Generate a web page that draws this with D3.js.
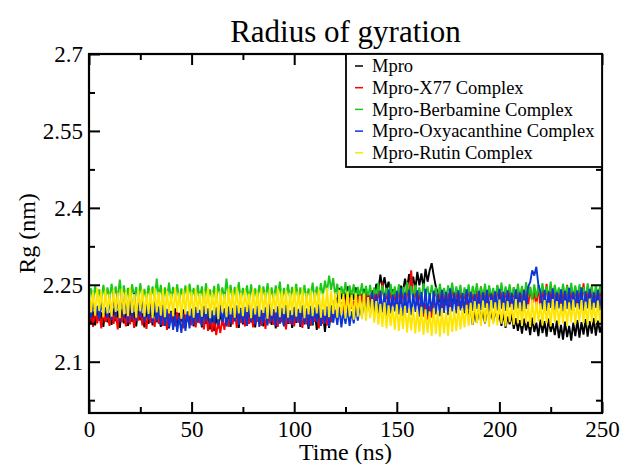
<!DOCTYPE html>
<html><head><meta charset="utf-8">
<script src="https://cdn.jsdelivr.net/npm/d3@7"></script>
<style>body{margin:0;background:#fff}svg{display:block}
svg text{font-family:"Liberation Serif","Times New Roman","DejaVu Serif",serif !important;}</style>
</head><body><svg id="chart" width="620" height="464"></svg>
<script>
const chartTitle = "Radius of gyration";
const xLabel = "Time (ns)";
const yLabel = "Rg (nm)";
const seriesNames = ["Mpro", "Mpro-X77 Complex", "Mpro-Berbamine Complex", "Mpro-Oxyacanthine Complex", "Mpro-Rutin Complex"];
const seriesColors = ["#000000", "#ff0000", "#19c819", "#0a36d8", "#ffe600"];
const timeStepNs = 1;
const xTicksMajor = [0, 50, 100, 150, 200, 250];
const xTicksMinor = [25, 75, 125, 175, 225];
const yTicksMajor = [2.1, 2.25, 2.4, 2.55, 2.7];
const yTicksMinor = [2.025, 2.175, 2.325, 2.475, 2.625];

const mpro = [
2.203,2.176,2.198,2.171,2.205,2.180,2.196,2.168,2.201,2.177,
2.195,2.172,2.204,2.179,2.199,2.166,2.202,2.175,2.193,2.170,
2.206,2.178,2.197,2.169,2.200,2.181,2.194,2.167,2.203,2.174,
2.198,2.171,2.205,2.177,2.192,2.168,2.201,2.180,2.196,2.165,
2.199,2.173,2.204,2.170,2.195,2.178,2.202,2.166,2.197,2.175,
2.203,2.169,2.194,2.180,2.200,2.167,2.206,2.174,2.191,2.163,
2.196,2.160,2.190,2.165,2.199,2.171,2.204,2.176,2.193,2.168,
2.201,2.179,2.197,2.166,2.205,2.173,2.192,2.170,2.200,2.177,
2.194,2.167,2.203,2.175,2.198,2.169,2.206,2.180,2.195,2.172,
2.202,2.165,2.197,2.178,2.193,2.170,2.204,2.174,2.199,2.166,
2.196,2.176,2.201,2.168,2.207,2.173,2.194,2.164,2.200,2.171,
2.198,2.162,2.203,2.170,2.195,2.158,2.201,2.166,2.210,2.198,
2.226,2.214,2.244,2.222,2.240,2.219,2.247,2.225,2.238,2.221,
2.245,2.218,2.236,2.223,2.242,2.214,2.233,2.220,2.239,2.216,
2.252,2.238,2.270,2.244,2.265,2.240,2.256,2.232,2.241,2.226,
2.238,2.229,2.248,2.236,2.262,2.243,2.271,2.246,2.266,2.240,
2.275,2.249,2.272,2.244,2.281,2.256,2.278,2.292,2.268,2.247,
2.233,2.216,2.235,2.212,2.229,2.218,2.236,2.210,2.231,2.214,
2.226,2.204,2.222,2.195,2.214,2.188,2.205,2.172,2.198,2.176,
2.204,2.181,2.199,2.175,2.207,2.184,2.196,2.178,2.203,2.180,
2.192,2.170,2.196,2.166,2.188,2.173,2.193,2.164,2.185,2.160,
2.181,2.155,2.184,2.161,2.178,2.152,2.186,2.158,2.176,2.150,
2.182,2.156,2.179,2.149,2.184,2.158,2.175,2.152,2.180,2.146,
2.172,2.143,2.178,2.148,2.170,2.141,2.176,2.150,2.181,2.147,
2.177,2.153,2.183,2.149,2.179,2.155,2.185,2.151,2.180,2.157,
2.174];

const mproX77 = [
2.172,2.198,2.168,2.203,2.175,2.196,2.165,2.200,2.178,2.193,
2.170,2.205,2.174,2.197,2.163,2.201,2.177,2.194,2.169,2.206,
2.173,2.199,2.166,2.195,2.180,2.202,2.171,2.197,2.164,2.204,
2.176,2.193,2.168,2.200,2.174,2.207,2.170,2.195,2.162,2.198,
2.177,2.203,2.169,2.196,2.173,2.201,2.165,2.194,2.178,2.199,
2.171,2.204,2.167,2.197,2.175,2.192,2.163,2.199,2.160,2.188,
2.158,2.182,2.152,2.179,2.156,2.185,2.162,2.191,2.168,2.198,
2.173,2.202,2.166,2.195,2.176,2.200,2.169,2.207,2.174,2.193,
2.167,2.199,2.178,2.203,2.170,2.196,2.164,2.201,2.175,2.194,
2.172,2.206,2.168,2.198,2.177,2.192,2.163,2.200,2.174,2.197,
2.169,2.204,2.176,2.195,2.166,2.201,2.173,2.208,2.170,2.194,
2.178,2.199,2.165,2.203,2.174,2.196,2.171,2.205,2.177,2.200,
2.186,2.210,2.192,2.216,2.198,2.221,2.195,2.225,2.203,2.219,
2.200,2.228,2.206,2.231,2.204,2.236,2.209,2.230,2.203,2.238,
2.207,2.240,2.212,2.255,2.214,2.236,2.206,2.242,2.210,2.233,
2.205,2.244,2.213,2.239,2.208,2.246,2.215,2.278,2.221,2.238,
2.210,2.235,2.204,2.188,2.214,2.182,2.209,2.186,2.220,2.241,
2.212,2.237,2.205,2.243,2.210,2.234,2.207,2.246,2.213,2.239,
2.204,2.241,2.211,2.236,2.206,2.244,2.215,2.233,2.203,2.240,
2.209,2.247,2.212,2.238,2.205,2.243,2.214,2.235,2.208,2.248,
2.211,2.236,2.204,2.242,2.213,2.239,2.206,2.245,2.210,2.237,
2.203,2.244,2.212,2.240,2.207,2.246,2.214,2.236,2.209,2.249,
2.205,2.241,2.213,2.252,2.208,2.238,2.211,2.247,2.204,2.243,
2.212,2.239,2.206,2.250,2.210,2.237,2.215,2.244,2.207,2.241,
2.213,2.253,2.209,2.240,2.204,2.246,2.211,2.238,2.208,2.245,
2.214];

const mproBerbamine = [
2.224,2.243,2.220,2.248,2.226,2.241,2.218,2.250,2.223,2.245,
2.221,2.252,2.225,2.247,2.219,2.260,2.227,2.249,2.222,2.244,
2.217,2.251,2.226,2.246,2.220,2.253,2.224,2.242,2.218,2.249,
2.223,2.247,2.221,2.262,2.226,2.250,2.219,2.245,2.224,2.254,
2.220,2.246,2.227,2.251,2.218,2.243,2.225,2.249,2.221,2.252,
2.226,2.244,2.219,2.250,2.223,2.247,2.217,2.253,2.225,2.241,
2.222,2.248,2.218,2.252,2.226,2.245,2.221,2.262,2.224,2.250,
2.219,2.246,2.225,2.255,2.220,2.244,2.227,2.249,2.218,2.251,
2.224,2.243,2.221,2.250,2.226,2.247,2.219,2.253,2.223,2.245,
2.218,2.249,2.225,2.256,2.220,2.244,2.227,2.251,2.222,2.246,
2.226,2.252,2.219,2.245,2.224,2.250,2.221,2.243,2.227,2.254,
2.220,2.247,2.225,2.253,2.229,2.258,2.236,2.268,2.240,2.263,
2.228,2.252,2.223,2.247,2.230,2.255,2.221,2.249,2.226,2.251,
2.222,2.246,2.228,2.253,2.219,2.248,2.225,2.250,2.220,2.245,
2.227,2.254,2.221,2.249,2.226,2.244,2.218,2.252,2.224,2.247,
2.220,2.251,2.227,2.246,2.222,2.255,2.225,2.248,2.219,2.250,
2.226,2.245,2.221,2.253,2.228,2.247,2.220,2.250,2.224,2.246,
2.219,2.252,2.225,2.244,2.221,2.249,2.227,2.254,2.222,2.247,
2.226,2.250,2.218,2.245,2.224,2.251,2.220,2.248,2.227,2.253,
2.222,2.246,2.225,2.252,2.219,2.249,2.226,2.244,2.221,2.250,
2.224,2.254,2.220,2.247,2.227,2.251,2.223,2.245,2.218,2.252,
2.225,2.248,2.221,2.255,2.226,2.246,2.219,2.251,2.224,2.249,
2.228,2.253,2.222,2.247,2.225,2.256,2.220,2.250,2.227,2.245,
2.223,2.252,2.226,2.248,2.219,2.254,2.224,2.249,2.221,2.251,
2.227,2.246,2.222,2.253,2.225,2.248,2.220,2.250,2.226,2.247,
2.229];

const mproOxyacanthine = [
2.212,2.186,2.217,2.190,2.209,2.183,2.215,2.192,2.206,2.185,
2.228,2.181,2.236,2.187,2.232,2.178,2.238,2.184,2.230,2.176,
2.226,2.183,2.234,2.179,2.222,2.186,2.231,2.177,2.219,2.182,
2.214,2.175,2.220,2.179,2.208,2.172,2.211,2.170,2.203,2.167,
2.196,2.162,2.192,2.158,2.189,2.156,2.194,2.160,2.198,2.165,
2.203,2.172,2.207,2.176,2.201,2.170,2.209,2.178,2.204,2.173,
2.200,2.175,2.206,2.171,2.211,2.177,2.202,2.169,2.208,2.174,
2.205,2.179,2.210,2.172,2.203,2.176,2.207,2.170,2.212,2.178,
2.204,2.173,2.209,2.168,2.201,2.175,2.206,2.171,2.213,2.177,
2.202,2.170,2.208,2.174,2.205,2.169,2.211,2.176,2.200,2.172,
2.207,2.178,2.203,2.171,2.210,2.175,2.204,2.168,2.209,2.173,
2.206,2.177,2.212,2.170,2.202,2.174,2.208,2.169,2.205,2.176,
2.201,2.172,2.206,2.167,2.199,2.174,2.204,2.170,2.198,2.175,
2.205,2.180,2.212,2.188,2.222,2.195,2.229,2.193,2.236,2.197,
2.232,2.191,2.238,2.196,2.234,2.190,2.241,2.194,2.231,2.198,
2.237,2.192,2.243,2.189,2.235,2.195,2.240,2.191,2.233,2.197,
2.239,2.188,2.236,2.193,2.242,2.190,2.234,2.196,2.238,2.192,
2.233,2.189,2.240,2.195,2.236,2.191,2.243,2.198,2.235,2.194,
2.239,2.200,2.234,2.197,2.241,2.202,2.236,2.199,2.232,2.203,
2.238,2.201,2.235,2.205,2.240,2.198,2.233,2.204,2.237,2.200,
2.242,2.203,2.236,2.199,2.239,2.206,2.234,2.201,2.241,2.204,
2.235,2.198,2.240,2.203,2.246,2.255,2.278,2.268,2.285,2.250,
2.236,2.202,2.240,2.199,2.237,2.205,2.243,2.201,2.235,2.204,
2.241,2.198,2.238,2.203,2.244,2.200,2.236,2.206,2.239,2.202,
2.245,2.199,2.237,2.204,2.242,2.201,2.235,2.205,2.240,2.200,
2.236];

const mproRutin = [
2.242,2.196,2.236,2.190,2.244,2.199,2.238,2.187,2.240,2.194,
2.233,2.188,2.241,2.197,2.235,2.185,2.243,2.192,2.237,2.189,
2.245,2.195,2.232,2.186,2.239,2.198,2.242,2.188,2.234,2.193,
2.240,2.185,2.244,2.196,2.236,2.190,2.241,2.187,2.238,2.194,
2.233,2.189,2.243,2.197,2.235,2.184,2.240,2.192,2.246,2.190,
2.237,2.186,2.242,2.195,2.234,2.188,2.239,2.193,2.244,2.185,
2.236,2.191,2.241,2.183,2.238,2.196,2.232,2.187,2.243,2.192,
2.239,2.186,2.245,2.194,2.235,2.189,2.240,2.197,2.233,2.185,
2.242,2.192,2.237,2.188,2.244,2.195,2.236,2.184,2.241,2.190,
2.234,2.196,2.243,2.187,2.238,2.193,2.240,2.186,2.235,2.191,
2.245,2.188,2.237,2.195,2.242,2.185,2.234,2.192,2.239,2.189,
2.236,2.194,2.241,2.186,2.233,2.190,2.244,2.187,2.238,2.193,
2.235,2.186,2.240,2.191,2.232,2.184,2.237,2.189,2.230,2.182,
2.234,2.188,2.228,2.183,2.233,2.180,2.226,2.185,2.222,2.176,
2.218,2.172,2.213,2.168,2.216,2.165,2.210,2.170,2.207,2.162,
2.212,2.160,2.205,2.164,2.209,2.157,2.203,2.161,2.206,2.155,
2.200,2.158,2.207,2.152,2.202,2.156,2.198,2.150,2.204,2.154,
2.199,2.149,2.203,2.155,2.197,2.151,2.205,2.158,2.201,2.160,
2.208,2.163,2.204,2.167,2.211,2.170,2.215,2.172,2.218,2.175,
2.213,2.170,2.219,2.176,2.214,2.168,2.220,2.173,2.216,2.171,
2.221,2.174,2.215,2.169,2.218,2.177,2.213,2.172,2.222,2.175,
2.216,2.170,2.219,2.176,2.212,2.168,2.221,2.173,2.217,2.178,
2.214,2.171,2.220,2.175,2.215,2.169,2.222,2.177,2.218,2.172,
2.213,2.174,2.219,2.170,2.216,2.176,2.221,2.173,2.214,2.178,
2.220,2.175,2.217,2.171,2.223,2.177,2.215,2.174,2.219,2.176,
2.214];

const seriesValues = [mpro, mproX77, mproBerbamine, mproOxyacanthine, mproRutin];

const W = 620, H = 464;
const margin = {left: 89, right: 18, top: 54, bottom: 51};
const svg = d3.select("#chart");
const fontFamily = "Liberation Serif";

const x = d3.scaleLinear().domain([0, 250]).range([margin.left, W - margin.right]);
const y = d3.scaleLinear().domain([2.0, 2.7]).range([H - margin.bottom, margin.top]);

// data lines
const line = d3.line().x((d, i) => x(i * timeStepNs)).y(d => y(d));
seriesValues.forEach((vals, k) => {
  svg.append("path").datum(vals)
    .attr("d", line)
    .attr("fill", "none")
    .attr("stroke", seriesColors[k])
    .attr("stroke-width", 1.9)
    .attr("stroke-linejoin", "bevel");
});

function styleAxis(g, showLabels) {
  g.attr("font-family", null).attr("font-size", null);
  g.select(".domain").remove();
  g.selectAll(".tick line").attr("stroke", "#000").attr("stroke-width", 2);
  g.selectAll(".tick text").style("font-family", fontFamily).style("font-size", "23px").attr("fill", "#000");
  if (!showLabels) g.selectAll(".tick text").remove();
}

const yBottom = y.range()[0], yTop = y.range()[1];
// bottom axis
svg.append("g").attr("transform", `translate(0,${yBottom})`)
  .call(d3.axisBottom(x).tickValues(xTicksMajor).tickSize(-11).tickPadding(8).tickFormat(d3.format("d")))
  .call(g => styleAxis(g, true));
svg.append("g").attr("transform", `translate(0,${yBottom})`)
  .call(d3.axisBottom(x).tickValues(xTicksMinor).tickSize(-6).tickFormat(""))
  .call(g => styleAxis(g, false));
// top axis
svg.append("g").attr("transform", `translate(0,${yTop})`)
  .call(d3.axisTop(x).tickValues(xTicksMajor).tickSize(-11).tickFormat(""))
  .call(g => styleAxis(g, false));
svg.append("g").attr("transform", `translate(0,${yTop})`)
  .call(d3.axisTop(x).tickValues(xTicksMinor).tickSize(-6).tickFormat(""))
  .call(g => styleAxis(g, false));
// left axis
svg.append("g").attr("transform", `translate(${x.range()[0]},0)`)
  .call(d3.axisLeft(y).tickValues(yTicksMajor).tickSize(-11).tickPadding(6).tickFormat(d => String(+d.toFixed(3))))
  .call(g => styleAxis(g, true));
svg.append("g").attr("transform", `translate(${x.range()[0]},0)`)
  .call(d3.axisLeft(y).tickValues(yTicksMinor).tickSize(-6).tickFormat(""))
  .call(g => styleAxis(g, false));
// right axis
svg.append("g").attr("transform", `translate(${x.range()[1]},0)`)
  .call(d3.axisRight(y).tickValues(yTicksMajor).tickSize(-11).tickFormat(""))
  .call(g => styleAxis(g, false));
svg.append("g").attr("transform", `translate(${x.range()[1]},0)`)
  .call(d3.axisRight(y).tickValues(yTicksMinor).tickSize(-6).tickFormat(""))
  .call(g => styleAxis(g, false));

// frame
svg.append("rect")
  .attr("x", x.range()[0]).attr("y", yTop)
  .attr("width", x.range()[1] - x.range()[0]).attr("height", yBottom - yTop)
  .attr("fill", "none").attr("stroke", "#000").attr("stroke-width", 2.2);

// titles
const cx = (x.range()[0] + x.range()[1]) / 2;
svg.append("text").attr("x", cx).attr("y", 42)
  .attr("text-anchor", "middle").style("font-family", fontFamily).style("font-size", "31px")
  .text(chartTitle);
svg.append("text").attr("x", cx).attr("y", 460)
  .attr("text-anchor", "middle").style("font-family", fontFamily).style("font-size", "24px")
  .text(xLabel);
svg.append("text").attr("transform", `translate(35,${(yBottom + yTop) / 2}) rotate(-90)`)
  .attr("text-anchor", "middle").style("font-family", fontFamily).style("font-size", "24px")
  .text(yLabel);

// legend
const lg = svg.append("g");
lg.append("rect").attr("x", 346).attr("y", yTop)
  .attr("width", x.range()[1] - 346).attr("height", 113)
  .attr("fill", "#fff").attr("stroke", "#000").attr("stroke-width", 1.8);
seriesNames.forEach((name, k) => {
  const ly = 66 + k * 21.7;
  lg.append("line").attr("x1", 355).attr("x2", 363).attr("y1", ly).attr("y2", ly)
    .attr("stroke", seriesColors[k]).attr("stroke-width", 1.5);
  lg.append("text").attr("x", 372).attr("y", ly).attr("dy", "0.33em")
    .style("font-family", fontFamily).style("font-size", "18.5px").text(name);
});
</script>
</body></html>
